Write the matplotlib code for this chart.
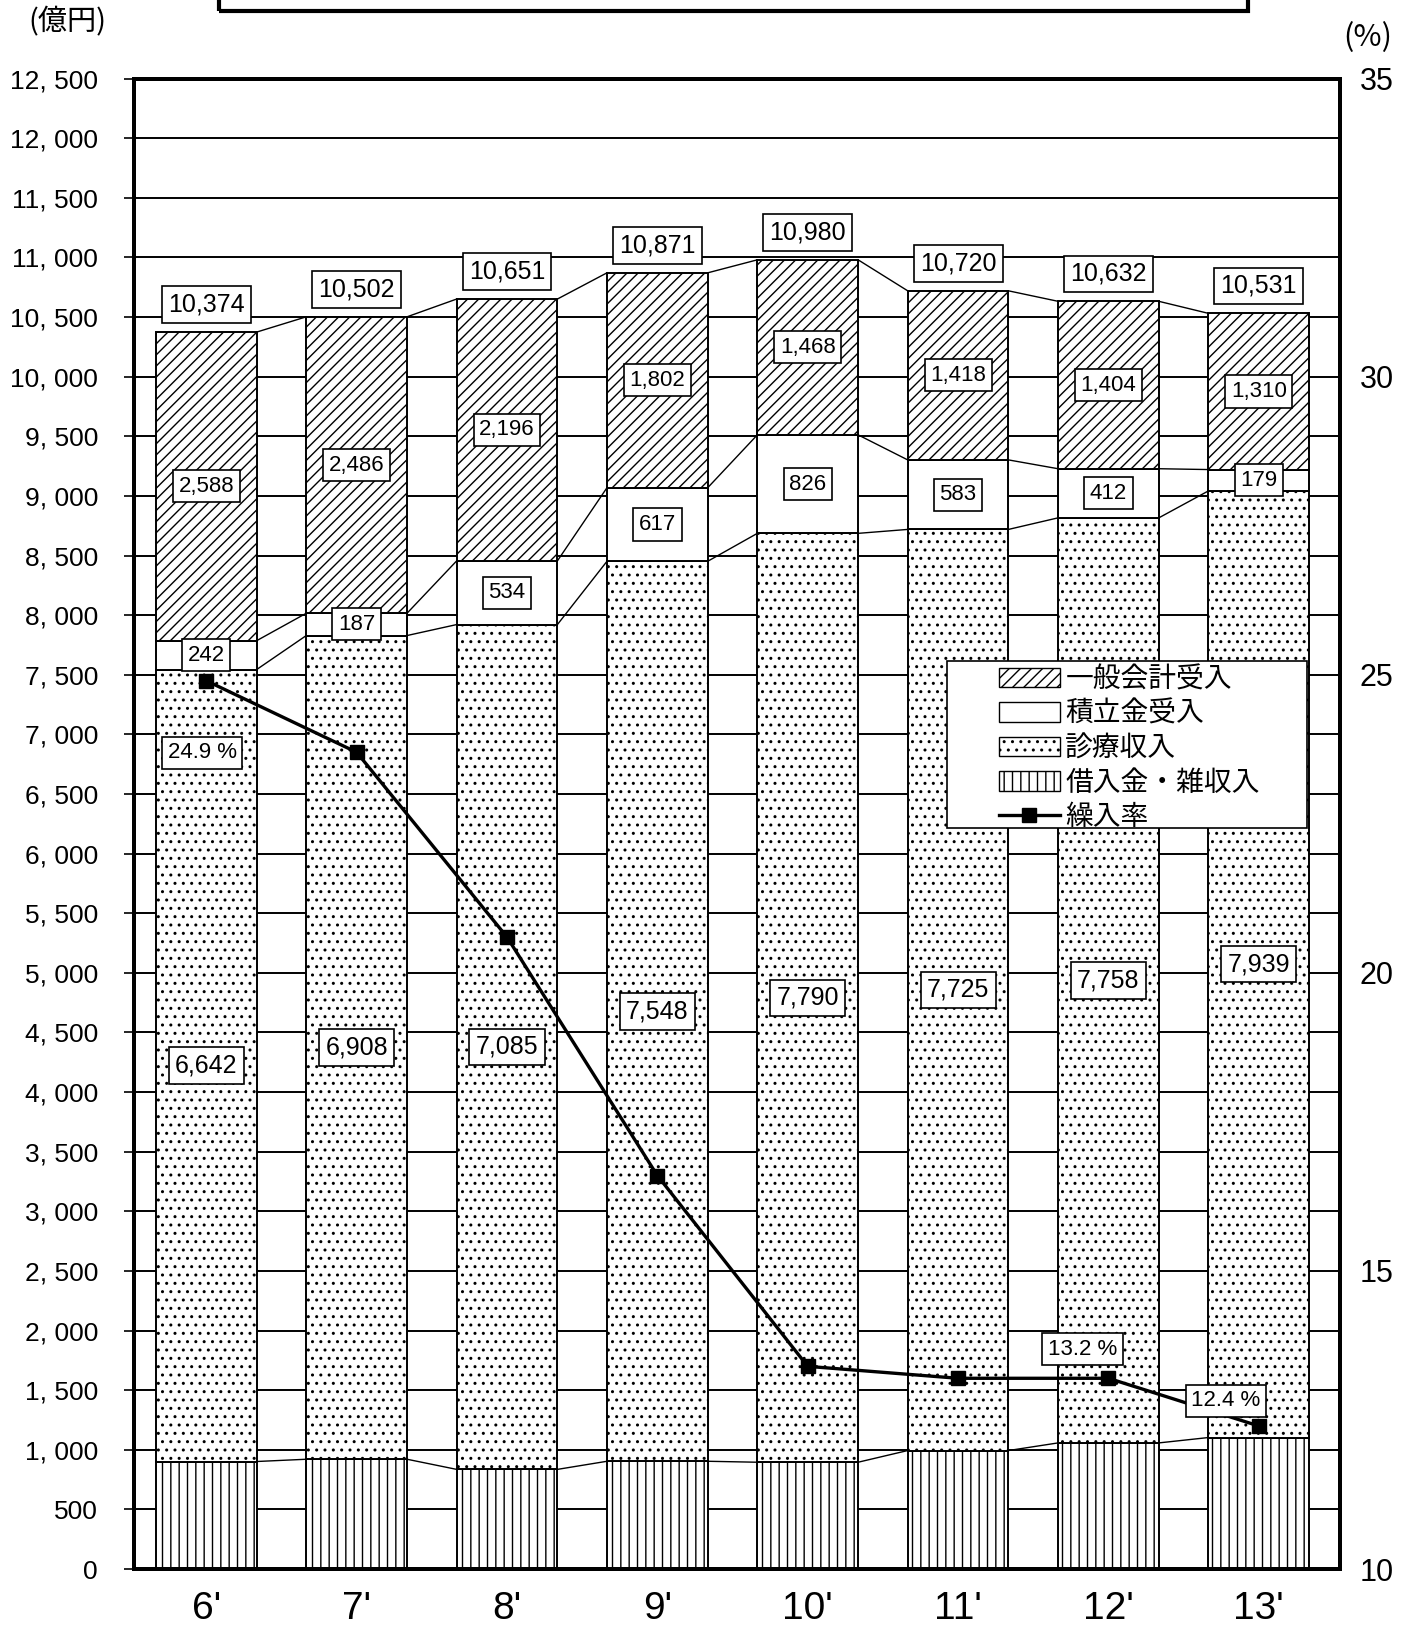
import matplotlib
matplotlib.use("Agg")
import matplotlib.pyplot as plt
from matplotlib import font_manager as fm
from matplotlib.patches import Rectangle, Patch
from matplotlib.lines import Line2D
import numpy as np

# ---------------- data ----------------
years = ["6'", "7'", "8'", "9'", "10'", "11'", "12'", "13'"]
general = [2588, 2486, 2196, 1802, 1468, 1418, 1404, 1310]      # 一般会計受入
reserve = [242, 187, 534, 617, 826, 583, 412, 179]              # 積立金受入
medical = [6642, 6908, 7085, 7548, 7790, 7725, 7758, 7939]      # 診療収入
totals = [10374, 10502, 10651, 10871, 10980, 10720, 10632, 10531]
other = [t - g - r - m for t, g, r, m in zip(totals, general, reserve, medical)]  # 借入金・雑収入
rate = [24.9, 23.7, 20.6, 16.6, 13.4, 13.2, 13.2, 12.4]         # 繰入率 (%)
rate_labels = {0: "24.9 %", 6: "13.2 %", 7: "12.4 %"}
left_ticks = list(range(0, 12501, 500))
right_ticks = [10, 15, 20, 25, 30, 35]

# ---------------- fonts ----------------
def has(name):
    try:
        fm.findfont(fm.FontProperties(family=name), fallback_to_default=False)
        return True
    except Exception:
        return False

NUM = 'Liberation Sans Narrow' if has('Liberation Sans Narrow') else 'Liberation Sans'
JP = ['Noto Sans CJK JP', 'DejaVu Sans']
plt.rcParams['font.family'] = JP
plt.rcParams['hatch.linewidth'] = 1.0
plt.rcParams['hatch.color'] = 'black'

fig = plt.figure(figsize=(14.12, 16.37), dpi=100)
ax = fig.add_axes([0.095, 0.0415, 0.854, 0.9105])
x = np.arange(len(years))
w = 0.67

# grid
for v in left_ticks[1:-1]:
    ax.axhline(v, color='black', lw=1.4, zorder=0)

ax.bar(x, other, w, color='white', edgecolor='black', hatch='||', lw=1.4, zorder=2)
bot = np.array(other, dtype=float)
ax.bar(x, medical, w, bottom=bot, color='white', edgecolor='black', hatch='..', lw=1.4, zorder=2)
bot2 = bot + np.array(medical)
ax.bar(x, reserve, w, bottom=bot2, color='white', edgecolor='black', lw=1.4, zorder=2)
bot3 = bot2 + np.array(reserve)
ax.bar(x, general, w, bottom=bot3, color='white', edgecolor='black', hatch='///', lw=1.4, zorder=2)
top = bot3 + np.array(general)

# series lines between bars
for lev in [bot, bot2, bot3, top]:
    for i in range(len(x) - 1):
        ax.plot([x[i] + w / 2, x[i + 1] - w / 2], [lev[i], lev[i + 1]], color='black', lw=1.0, zorder=1.5)

box = dict(boxstyle='square,pad=0.25', fc='white', ec='black', lw=1.2)
for i in range(len(x)):
    ax.text(x[i], top[i] + 230, f"{totals[i]:,}", ha='center', va='center', fontsize=18, family=NUM, bbox=box, zorder=5)
    ax.text(x[i], bot3[i] + general[i] / 2, f"{general[i]:,}", ha='center', va='center', fontsize=16, family=NUM, bbox=box, zorder=5)
    ax.text(x[i], bot2[i] + reserve[i] / 2, f"{reserve[i]:,}", ha='center', va='center', fontsize=16, family=NUM, bbox=box, zorder=5)
    ax.text(x[i], bot[i] + medical[i] / 2, f"{medical[i]:,}", ha='center', va='center', fontsize=18, family=NUM, bbox=box, zorder=5)

ax.set_xlim(-0.48, 7.54)
ax.set_ylim(0, 12500)
ax.set_yticks(left_ticks)
ax.set_yticklabels([f"{v:,}".replace(",", ", ") for v in left_ticks], family=NUM, fontsize=19)
ax.set_xticks(x)
ax.set_xticklabels(years, family=NUM, fontsize=28)
ax.tick_params(axis='y', length=7, width=1.2, pad=19)
ax.tick_params(axis='x', length=0, pad=16)
for s in ax.spines.values():
    s.set_linewidth(2.8)

ax2 = ax.twinx()
ax2.set_ylim(10, 35)
ax2.set_yticks(right_ticks)
ax2.set_yticklabels([str(v) for v in right_ticks], family=NUM, fontsize=22)
ax2.tick_params(axis='y', length=0, pad=14)
for s in ax2.spines.values():
    s.set_linewidth(2.8)
ax2.plot(x, rate, color='black', lw=2.4, marker='s', markersize=10, zorder=4)

offsets = {0: (-4, -72), 6: (-26, 29), 7: (-33, 25)}
for i, txt in rate_labels.items():
    ax2.annotate(txt, (x[i], rate[i]), xytext=offsets[i], textcoords='offset pixels',
                 ha='center', va='center', fontsize=16, family=NUM, bbox=box, zorder=6)

# legend with its own frame
ax2.add_patch(Rectangle((0.674, 0.497), 0.299, 0.112, transform=ax2.transAxes,
                        fc='white', ec='black', lw=1.2, zorder=9))
handles = [Patch(facecolor='white', edgecolor='black', hatch='///', label='一般会計受入'),
           Patch(facecolor='white', edgecolor='black', label='積立金受入'),
           Patch(facecolor='white', edgecolor='black', hatch='..', label='診療収入'),
           Patch(facecolor='white', edgecolor='black', hatch='||', label='借入金・雑収入'),
           Line2D([], [], color='black', lw=2.4, marker='s', markersize=10, label='繰入率')]
leg = ax2.legend(handles=handles, loc='upper left', bbox_to_anchor=(0.717, 0.607),
                 frameon=False, borderpad=0, borderaxespad=0,
                 labelspacing=0.16, handlelength=2.2, handletextpad=0.2,
                 prop={'family': JP, 'size': 20})
leg.set_zorder(10)

# title box (cut off at top) and unit labels
fig.patches.append(Rectangle((0.155, 0.9933), 0.729, 0.05, transform=fig.transFigure,
                             fill=False, ec='black', lw=3))
fig.text(0.048, 0.9866, "(億円)", ha='center', va='center', fontsize=21)
fig.text(0.969, 0.977, "(%)", ha='center', va='center', fontsize=22)

fig.savefig("out.png", dpi=100)
